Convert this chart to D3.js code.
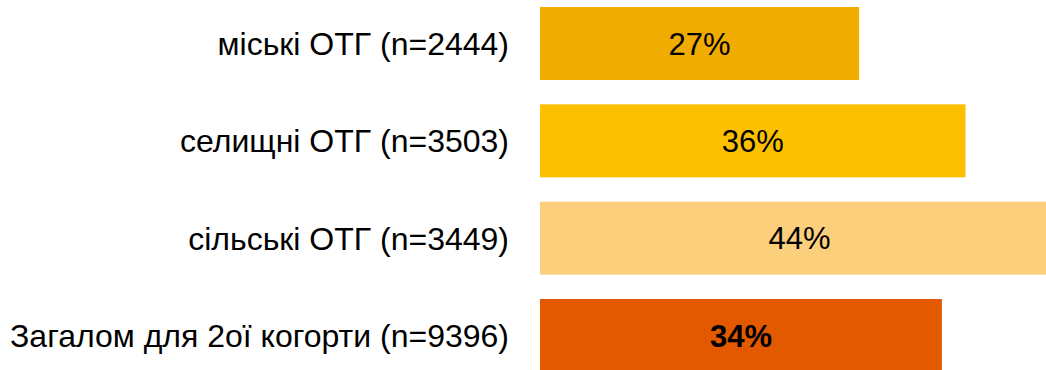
<!DOCTYPE html>
<html>
<head>
<meta charset="utf-8">
<script src="https://cdn.jsdelivr.net/npm/d3@7"></script>
<style>
html,body{margin:0;padding:0;background:#fff;overflow:hidden;}
svg{display:block;font-family:"Liberation Sans",Arial,sans-serif;}
</style>
</head>
<body>
<svg id="chart" width="1046" height="370"></svg>
<script>
const categories = ["міські ОТГ (n=2444)", "селищні ОТГ (n=3503)", "сільські ОТГ (n=3449)", "Загалом для 2ої когорти (n=9396)"];
const values = [27, 36, 44, 34];
const valueLabels = ["27%", "36%", "44%", "34%"];
const colors = ["#F0AC00", "#FDC000", "#FCCF7D", "#E35900"];
const bold = [false, false, false, true];

const svg = d3.select("#chart");
const x = d3.scaleLinear().domain([0, 100]).range([540, 1722]);
const y = d3.scaleBand().domain(categories).range([7, 372]).paddingInner(0.25).paddingOuter(0);

const data = categories.map((c, i) => ({c, v: values[i], l: valueLabels[i], col: colors[i], b: bold[i]}));

svg.selectAll("rect.bar").data(data).join("rect")
  .attr("class", "bar")
  .attr("x", x(0))
  .attr("y", d => y(d.c))
  .attr("width", d => x(d.v) - x(0))
  .attr("height", y.bandwidth())
  .attr("fill", d => d.col);

svg.selectAll("text.val").data(data).join("text")
  .attr("class", "val")
  .attr("x", d => (x(0) + Math.min(x(d.v), 1046 + 13)) / 2)
  .attr("y", d => y(d.c) + y.bandwidth() / 2)
  .attr("dy", "0.36em")
  .attr("text-anchor", "middle")
  .attr("font-size", 31)
  .attr("font-weight", d => d.b ? "bold" : "normal")
  .attr("fill", "#000")
  .text(d => d.l);

svg.selectAll("text.cat").data(data).join("text")
  .attr("class", "cat")
  .attr("x", 509)
  .attr("y", d => y(d.c) + y.bandwidth() / 2)
  .attr("dy", "0.36em")
  .attr("text-anchor", "end")
  .attr("font-size", 32)
  .attr("fill", "#000")
  .text(d => d.c);
</script>
</body>
</html>
